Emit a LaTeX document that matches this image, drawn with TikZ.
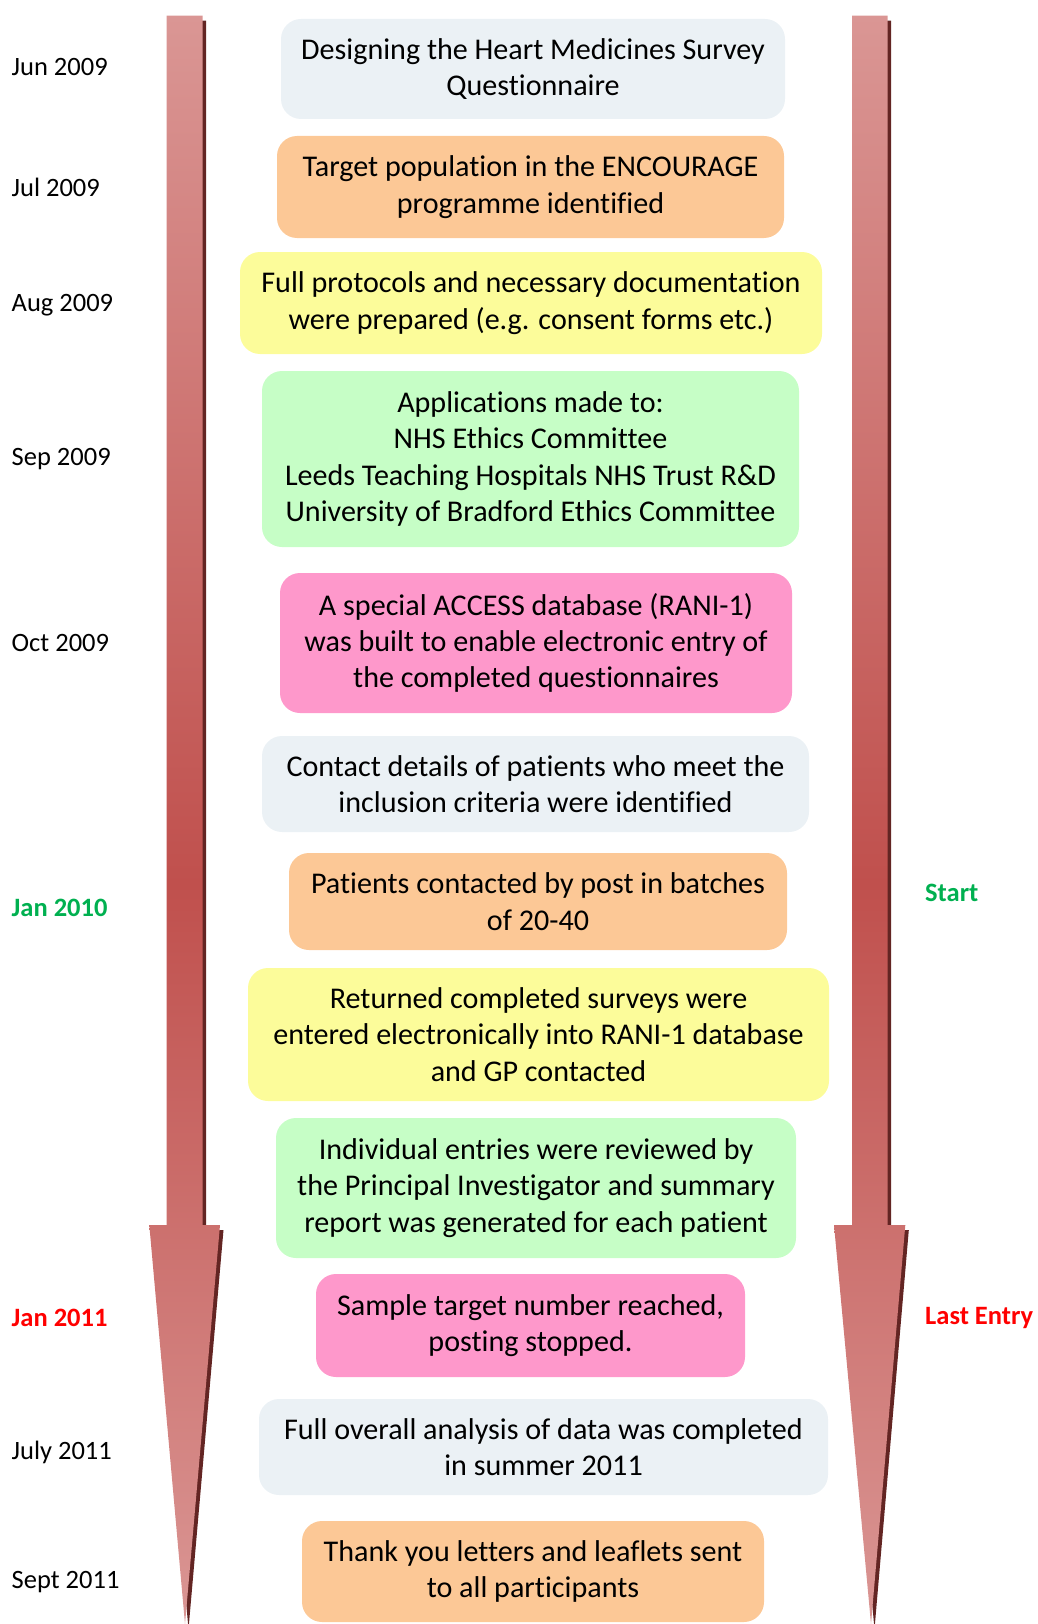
\documentclass[tikz,border=0pt]{standalone}
\usepackage{fontspec}
\setmainfont[Ligatures=NoCommon]{Carlito}
\definecolor{arrlight}{HTML}{DA9694}
\definecolor{arrdark}{HTML}{C0504D}
\definecolor{arrshadow}{HTML}{632523}
\definecolor{cgrey}{HTML}{EBF1F5}
\definecolor{corange}{HTML}{FCC896}
\definecolor{cyellow}{HTML}{FCFC9A}
\definecolor{cgreen}{HTML}{C6FEC6}
\definecolor{cpink}{HTML}{FE98CB}
\definecolor{lgreen}{HTML}{00B050}
\definecolor{lred}{HTML}{FF0000}
\pgfdeclareverticalshading{arrowshade}{100bp}{color(0bp)=(arrlight); color(25bp)=(arrlight); color(48bp)=(arrdark); color(75bp)=(arrlight); color(100bp)=(arrlight)}
\tikzset{
  evbox/.style={rounded corners=20pt, inner sep=0pt, align=center,
    font=\fontsize{30.1}{36.3}\selectfont, text=black},
  datelab/.style={anchor=west, inner sep=0pt, font=\fontsize{26.5}{30}\selectfont},
  keylab/.style={anchor=west, inner sep=0pt, font=\fontsize{26.5}{30}\selectfont\bfseries},
}
\begin{document}
\begin{tikzpicture}[x=1pt,y=-1pt]
\useasboundingbox (0,0) rectangle (1037,1624);
% left arrow
\fill[arrshadow, shift={(3.5,5)}] (166.7,15.6) -- (202.5,15.6) -- (202.5,1225) -- (220,1225) -- (185,1624) -- (149.3,1225) -- (166.7,1225) -- cycle;
\shade[shading=arrowshade] (166.7,15.6) -- (202.5,15.6) -- (202.5,1225) -- (220,1225) -- (185,1624) -- (149.3,1225) -- (166.7,1225) -- cycle;
% right arrow
\fill[arrshadow, shift={(3.5,5)}] (852,15.6) -- (887.7,15.6) -- (887.7,1225) -- (905.3,1225) -- (871,1624) -- (834,1225) -- (852,1225) -- cycle;
\shade[shading=arrowshade] (852,15.6) -- (887.7,15.6) -- (887.7,1225) -- (905.3,1225) -- (871,1624) -- (834,1225) -- (852,1225) -- cycle;

% boxes
\node[evbox, fill=cgrey, minimum width=504pt, minimum height=100pt] (b1) at (533,69) {Designing the Heart Medicines Survey\\Questionnaire};
\node[evbox, fill=corange, minimum width=507pt, minimum height=102pt] (b2) at (530.5,187) {Target population in the ENCOURAGE\\programme identified};
\node[evbox, fill=cyellow, minimum width=582pt, minimum height=102pt] (b3) at (531,303) {Full protocols and necessary documentation\\were prepared (e.g. consent forms etc.)};
\node[evbox, fill=cgreen, minimum width=537pt, minimum height=176pt] (b4) at (530.5,459) {Applications made to:\\NHS Ethics Committee\\Leeds Teaching Hospitals NHS Trust R\&D\\University of Bradford Ethics Committee};
\node[evbox, fill=cpink, minimum width=512pt, minimum height=140pt] (b5) at (536,643) {A special ACCESS database (RANI-1)\\was built to enable electronic entry of\\the completed questionnaires};
\node[evbox, fill=cgrey, minimum width=547pt, minimum height=96pt] (b6) at (535.5,784) {Contact details of patients who meet the\\inclusion criteria were identified};
\node[evbox, fill=corange, minimum width=498pt, minimum height=97pt] (b7) at (538,901.5) {Patients contacted by post in batches\\of 20-40};
\node[evbox, fill=cyellow, minimum width=581pt, minimum height=133pt] (b8) at (538.5,1034.5) {Returned completed surveys were\\entered electronically into RANI-1 database\\and GP contacted};
\node[evbox, fill=cgreen, minimum width=520pt, minimum height=140pt] (b9) at (536,1188) {Individual entries were reviewed by\\the Principal Investigator and summary\\report was generated for each patient};
\node[evbox, fill=cpink, minimum width=429pt, minimum height=103pt] (b10) at (530.5,1325.5) {Sample target number reached,\\posting stopped.};
\node[evbox, fill=cgrey, minimum width=569pt, minimum height=96pt] (b11) at (543.5,1447) {Full overall analysis of data was completed\\in summer 2011};
\node[evbox, fill=corange, minimum width=462pt, minimum height=101pt] (b12) at (533,1571.5) {Thank you letters and leaflets sent\\to all participants};

% date labels
\node[datelab] (d1) at (11.5,67) {Jun 2009};
\node[datelab] (d2) at (11.5,187.5) {Jul 2009};
\node[datelab] (d3) at (11.5,305.6) {Aug 2009};
\node[datelab] (d4) at (11.5,459) {Sep 2009};
\node[datelab] (d5) at (11.5,643) {Oct 2009};
\node[keylab, text=lgreen] (d6) at (11.5,907.5) {Jan 2010};
\node[keylab, text=lred] (d7) at (11.5,1318) {Jan 2011};
\node[datelab] (d8) at (11.5,1452.5) {July 2011};
\node[datelab] (d9) at (11.5,1582) {Sept 2011};
\node[keylab, text=lgreen] (s1) at (925,893) {Start};
\node[keylab, text=lred] (s2) at (925,1318) {Last Entry};
\end{tikzpicture}
\end{document}
